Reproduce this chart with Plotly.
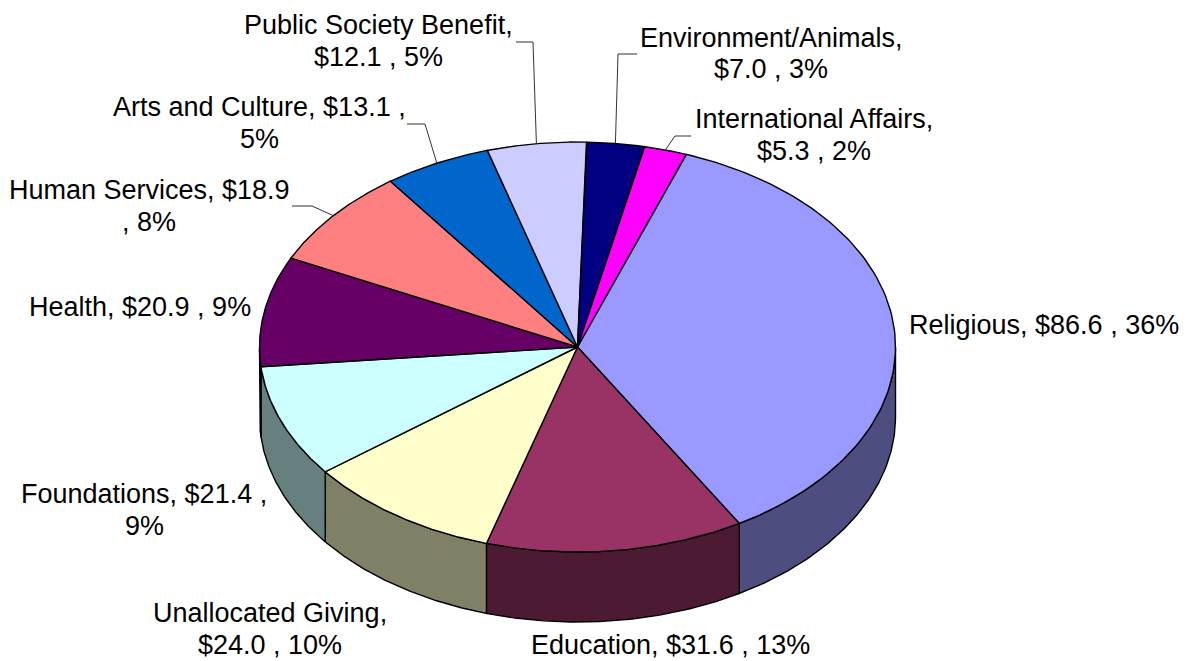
import numpy as np
import plotly.graph_objects as go

# Contributions by recipient type, in billions of dollars
categories = ["Religious", "Education", "Unallocated Giving", "Foundations", "Health",
              "Human Services", "Arts and Culture", "Public Society Benefit",
              "Environment/Animals", "International Affairs"]
values = [86.6, 31.6, 24.0, 21.4, 20.9, 18.9, 13.1, 12.1, 7.0, 5.3]
top_colors = ["#9999FF", "#993366", "#FFFFCC", "#CCFFFF", "#660066",
              "#FF8080", "#0066CC", "#CCCCFF", "#000080", "#FF00FF"]
side_colors = ["#4D4D80", "#4D1A33", "#808066", "#668080", "#330033",
               "#804040", "#003366", "#666680", "#000040", "#800080"]

# Label placement: centre x, line centres, words kept on the first line
label_x = [1044, 670, 270, 144, 139.5, 149, 259, 378, 771, 814]
label_y = [[325], [645], [613, 645], [494, 526], [307], [190, 222],
           [107, 139], [25, 57], [38, 69], [119, 151]]
first_line_words = [None, None, 2, 3, None, 3, 5, 3, 1, 2]

# Leader elbows from the rim to the label (None means no leader)
leader_elbows = [None, None, None, None, None,
                 [(312, 206), (292, 206)], [(425, 124), (407, 124)],
                 [(533, 42), (516, 42)], [(618, 54), (637, 54)], [(675, 136), (691, 136)]]

CX, CY, RX, RY, DEPTH = 577.5, 347, 318, 205, 70
START_DEG = 20.0


def rim(angle_deg, drop=0.0):
    a = np.radians(angle_deg)
    return CX + RX * np.sin(a), CY - RY * np.cos(a) + drop


total = sum(values)
spans = [v / total * 360 for v in values]
edges = START_DEG + np.concatenate([[0], np.cumsum(spans)])

fig = go.Figure()
outline = dict(color="black", width=1.4)

# Rim walls: only the part of each slice facing the viewer (90 to 270 degrees)
for i in range(len(values)):
    lo, hi = max(edges[i], 90), min(edges[i + 1], 270)
    if hi <= lo:
        continue
    arc = np.linspace(lo, hi, 90)
    xt, yt = rim(arc)
    xb, yb = rim(arc[::-1], DEPTH)
    fig.add_trace(go.Scatter(x=np.r_[xt, xb, xt[0]], y=np.r_[yt, yb, yt[0]], mode="lines",
                             fill="toself", fillcolor=side_colors[i], line=outline,
                             hoverinfo="skip"))

# Top face of each slice
for i in range(len(values)):
    arc = np.linspace(edges[i], edges[i + 1], 120)
    xt, yt = rim(arc)
    fig.add_trace(go.Scatter(x=np.r_[CX, xt, CX], y=np.r_[CY, yt, CY], mode="lines",
                             fill="toself", fillcolor=top_colors[i], line=outline,
                             name=categories[i], hoverinfo="name"))

# Leader lines start at the slice's rim midpoint
for i, elbow in enumerate(leader_elbows):
    if elbow is None:
        continue
    sx, sy = rim((edges[i] + edges[i + 1]) / 2)
    fig.add_trace(go.Scatter(x=[sx] + [p[0] for p in elbow], y=[sy] + [p[1] for p in elbow],
                             mode="lines", line=dict(color="#333333", width=1),
                             hoverinfo="skip"))

# Data labels, one annotation per line so the line spacing stays fixed
for i, cat in enumerate(categories):
    pct = round(values[i] / total * 100)
    words = f"{cat}, ${values[i]:.1f} , {pct}%".split(" ")
    n = first_line_words[i]
    lines = [" ".join(words)] if n is None else [" ".join(words[:n]), " ".join(words[n:])]
    for text, y in zip(lines, label_y[i]):
        fig.add_annotation(x=label_x[i], y=y, text=text, showarrow=False,
                           xanchor="center", yanchor="middle",
                           font=dict(family="Liberation Sans", size=27, color="black"))

fig.update_layout(
    width=1189, height=661, autosize=False,
    margin=dict(l=0, r=0, t=0, b=0),
    paper_bgcolor="white", plot_bgcolor="white", showlegend=False,
    xaxis=dict(range=[0, 1189], visible=False, fixedrange=True),
    yaxis=dict(range=[661, 0], visible=False, fixedrange=True),
)
fig.write_html("out.html")
